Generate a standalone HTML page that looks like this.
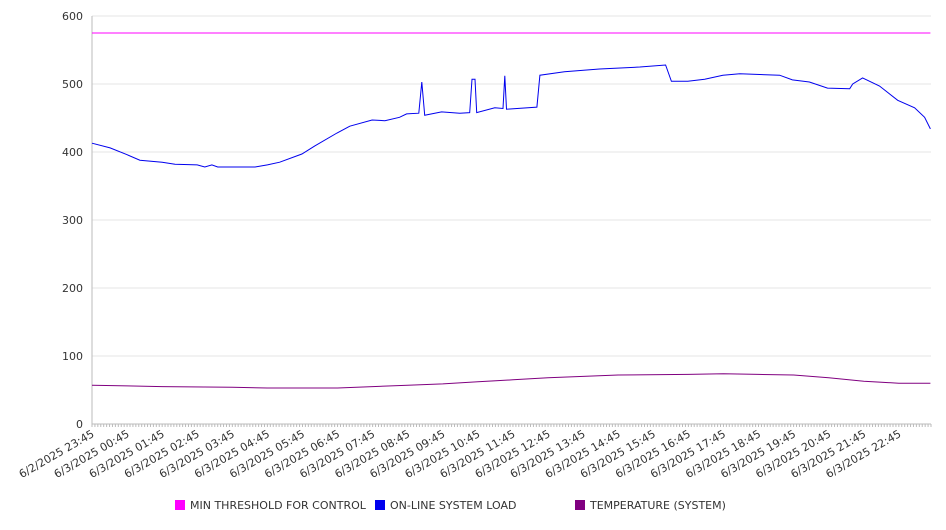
<!DOCTYPE html>
<html><head><meta charset="utf-8"><style>
body{margin:0;background:#fff;font-family:"DejaVu Sans","Liberation Sans",sans-serif;}
svg text{font-family:"DejaVu Sans","Liberation Sans",sans-serif;}
</style></head><body>
<svg id="chart" width="946" height="526" xmlns="http://www.w3.org/2000/svg"></svg>
<script>
const yTicks=[0,100,200,300,400,500,600];
const xTickLabels=["6/2/2025 23:45","6/3/2025 00:45","6/3/2025 01:45","6/3/2025 02:45","6/3/2025 03:45","6/3/2025 04:45","6/3/2025 05:45","6/3/2025 06:45","6/3/2025 07:45","6/3/2025 08:45","6/3/2025 09:45","6/3/2025 10:45","6/3/2025 11:45","6/3/2025 12:45","6/3/2025 13:45","6/3/2025 14:45","6/3/2025 15:45","6/3/2025 16:45","6/3/2025 17:45","6/3/2025 18:45","6/3/2025 19:45","6/3/2025 20:45","6/3/2025 21:45","6/3/2025 22:45"];
const loadTimes=[0,31,60,82,120,142,180,193,205,215,240,279,300,321,359,381,419,441,479,501,526,538,559,564,569,598,629,646,650,655,658,689,703,706,709,761,766,808,868,937,981,991,1019,1048,1079,1108,1176,1198,1227,1258,1296,1301,1318,1347,1378,1407,1424,1434];
const loadValues=[413,406,396,388,385,382,381,378,381,378,378,378,381,385,397,409,428,438,447,446,451,456,457,503,454,459,457,458,507,507,458,465,464,512,463,466,513,518,522,525,528,504,504,507,513,515,513,506,503,494,493,500,509,497,476,465,451,434];
const tempTimes=[0,60,120,240,300,420,480,540,600,660,720,780,840,900,1020,1080,1140,1200,1260,1320,1380,1434];
const tempValues=[57,56,55,54,53,53,55,57,59,62,65,68,70,72,73,74,73,72,68,63,60,60];
const thresholdTimes=[0,1434];
const thresholdValues=[575,575];
const seriesNames=["MIN THRESHOLD FOR CONTROL","ON-LINE SYSTEM LOAD","TEMPERATURE (SYSTEM)"];
const seriesColors=["#ff00ff","#0000ee","#800080"];

const svg=document.getElementById('chart');
const NS="http://www.w3.org/2000/svg";
const X0=92,X1=931,Y0=424,Y1=16,TMAX=1435;
const xs=t=>X0+t/TMAX*(X1-X0);
const ys=v=>Y0-v/600*(Y0-Y1);
function mk(tag,attrs,parent){const e=document.createElementNS(NS,tag);for(const k in attrs)e.setAttribute(k,attrs[k]);(parent||svg).appendChild(e);return e;}

const grid=mk('g',{});


yTicks.forEach(v=>{
  const l=mk('line',{x1:X0,x2:X1,y1:ys(v),y2:ys(v),stroke:'#e6e6e6','stroke-width':1},grid);
  
  
  const t=mk('text',{x:83,y:ys(v)+4,'text-anchor':'end','font-size':11,fill:'#333'});
  t.textContent=v;
  
  
});
const yaxis=mk('line',{x1:X0,x2:X0,y1:Y1,y2:Y0,stroke:'#bbb'});


const xaxis=mk('line',{x1:X0,x2:X1,y1:Y0,y2:Y0,stroke:'#bbb'});


const minor=mk('g',{stroke:'#bbb'});


for(let t=0;t<=TMAX;t+=5){mk('line',{x1:xs(t),x2:xs(t),y1:Y0,y2:Y0+3},minor);}
xTickLabels.forEach((lab,i)=>{
  const x=xs(i*60)+3,y=Y0+12;
  const t=mk('text',{x:x,y:y,'text-anchor':'end','font-size':11,fill:'#333',transform:`rotate(-30 ${x} ${y})`});
  t.textContent=lab;
  
  
});
function line(times,vals,color,name){
  const d=times.map((t,i)=>(i?'L':'M')+xs(t).toFixed(1)+','+ys(vals[i]).toFixed(1)).join(' ');
  const p=mk('path',{d:d,fill:'none',stroke:color,'stroke-width':1});
  
  
}
line(thresholdTimes,thresholdValues,seriesColors[0],'threshold-line');
line(tempTimes,tempValues,seriesColors[2],'temperature-line');
line(loadTimes,loadValues,seriesColors[1],'system-load-line');
const legX=[175,375,575];
seriesNames.forEach((n,i)=>{
  const g=mk('g',{});
  
  
  mk('rect',{x:legX[i],y:500,width:10,height:10,fill:seriesColors[i]},g);
  const t=mk('text',{x:legX[i]+15,y:509,'font-size':11,fill:'#333'},g);
  t.textContent=n;
});
</script>
</body></html>
